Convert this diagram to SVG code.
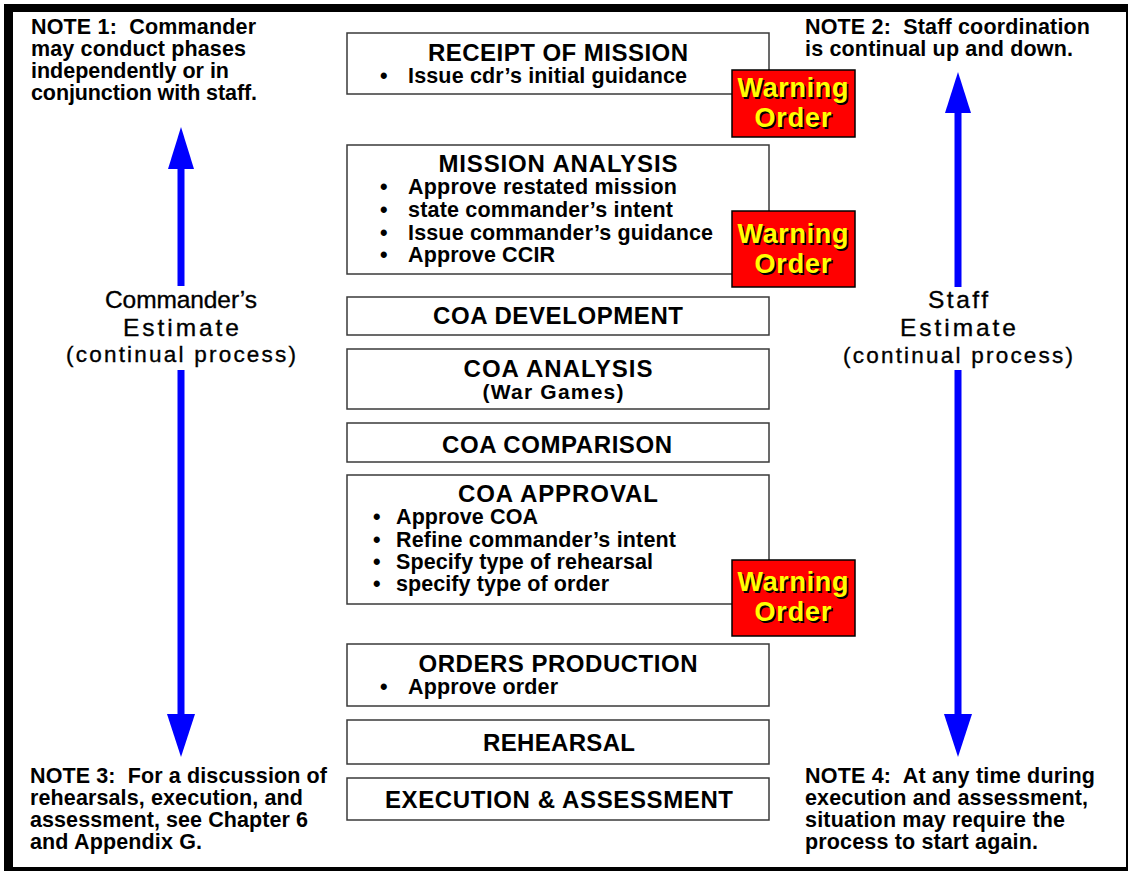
<svg xmlns="http://www.w3.org/2000/svg" width="1128" height="871" viewBox="0 0 1128 871">
  <style>
    text { font-family: "Liberation Sans", Arial, sans-serif; fill: #000; white-space: pre; }
    .note { font-size: 21.5px; font-weight: bold; }
    .title { font-size: 24px; font-weight: bold; text-anchor: middle; }
    .item { font-size: 21.5px; font-weight: bold; }
    .sub { font-size: 21px; font-weight: bold; text-anchor: middle; }
    .box { fill: #fff; stroke: #3a3a3a; stroke-width: 1.5; }
    .warn { fill: #ff0000; stroke: #000; stroke-width: 1.5; }
    .wtext { font-size: 27px; font-weight: bold; text-anchor: middle; fill: #ffff00; }
    .wshadow { font-size: 27px; font-weight: bold; text-anchor: middle; fill: #000; }
    .est { font-size: 24.5px; text-anchor: middle; stroke: #000; stroke-width: 0.35; }
    .estsub { font-size: 22.5px; text-anchor: middle; stroke: #000; stroke-width: 0.35; }
    .arrow { fill: #0000ff; }
  </style>

  <!-- frame -->
  <rect x="0" y="0" width="1128" height="871" fill="#fff"/>
  <rect x="4" y="4" width="1124" height="867" fill="#000"/>
  <rect x="13" y="12" width="1113" height="855" fill="#fff"/>

  <!-- notes -->
  <g id="note1">
    <text class="note" x="31" y="34" textLength="225" lengthAdjust="spacing">NOTE 1:  Commander</text>
    <text class="note" x="31" y="56" textLength="215" lengthAdjust="spacing">may conduct phases</text>
    <text class="note" x="31" y="78" textLength="198" lengthAdjust="spacing">independently or in</text>
    <text class="note" x="31" y="100" textLength="226" lengthAdjust="spacing">conjunction with staff.</text>
  </g>
  <g id="note2">
    <text class="note" x="805" y="34" textLength="285" lengthAdjust="spacing">NOTE 2:  Staff coordination</text>
    <text class="note" x="805" y="56" textLength="268" lengthAdjust="spacing">is continual up and down.</text>
  </g>
  <g id="note3">
    <text class="note" x="30" y="783" textLength="297" lengthAdjust="spacing">NOTE 3:  For a discussion of</text>
    <text class="note" x="30" y="805" textLength="273" lengthAdjust="spacing">rehearsals, execution, and</text>
    <text class="note" x="30" y="827" textLength="278" lengthAdjust="spacing">assessment, see Chapter 6</text>
    <text class="note" x="30" y="849" textLength="172" lengthAdjust="spacing">and Appendix G.</text>
  </g>
  <g id="note4">
    <text class="note" x="805" y="783" textLength="290" lengthAdjust="spacing">NOTE 4:  At any time during</text>
    <text class="note" x="805" y="805" textLength="283" lengthAdjust="spacing">execution and assessment,</text>
    <text class="note" x="805" y="827" textLength="260" lengthAdjust="spacing">situation may require the</text>
    <text class="note" x="805" y="849" textLength="233" lengthAdjust="spacing">process to start again.</text>
  </g>

  <!-- estimate labels -->
  <g id="commander-estimate">
    <text class="est" x="181" y="308" textLength="152" lengthAdjust="spacing">Commander’s</text>
    <text class="est" x="181" y="336" textLength="116" lengthAdjust="spacing">Estimate</text>
    <text class="estsub" x="181" y="362" textLength="230" lengthAdjust="spacing">(continual process)</text>
  </g>
  <g id="staff-estimate">
    <text class="est" x="958" y="308" textLength="60" lengthAdjust="spacing">Staff</text>
    <text class="est" x="958" y="336" textLength="116" lengthAdjust="spacing">Estimate</text>
    <text class="estsub" x="958" y="363" textLength="230" lengthAdjust="spacing">(continual process)</text>
  </g>

  <!-- connectors: double-headed estimate arrows -->
  <g id="connectors">
    <polygon class="arrow" points="181,127 194,169 168,169"/>
    <rect class="arrow" x="177.5" y="168" width="7" height="118"/>
    <rect class="arrow" x="177.5" y="370" width="7" height="345"/>
    <polygon class="arrow" points="167,714 195,714 181,757"/>

    <polygon class="arrow" points="958,72 971,113 945,113"/>
    <rect class="arrow" x="954.5" y="112" width="7" height="175"/>
    <rect class="arrow" x="954.5" y="370" width="7" height="345"/>
    <polygon class="arrow" points="944,714 972,714 958,757"/>
  </g>

  <!-- process steps -->
  <g id="receipt-of-mission">
    <rect class="box" x="347" y="33" width="422" height="61"/>
    <text class="title" x="558" y="61" textLength="260" lengthAdjust="spacing">RECEIPT OF MISSION</text>
    <text class="item" x="380" y="83">•</text>
    <text class="item" x="408" y="83" textLength="279" lengthAdjust="spacing">Issue cdr’s initial guidance</text>
  </g>
  <g id="warning-order-1">
    <rect class="warn" x="732" y="70" width="123" height="67"/>
    <text class="wshadow" x="794.5" y="98.5" textLength="111" lengthAdjust="spacing">Warning</text>
    <text class="wtext" x="793" y="97" textLength="111" lengthAdjust="spacing">Warning</text>
    <text class="wshadow" x="794.5" y="128.5" textLength="77" lengthAdjust="spacing">Order</text>
    <text class="wtext" x="793" y="127" textLength="77" lengthAdjust="spacing">Order</text>
  </g>

  <g id="mission-analysis">
    <rect class="box" x="347" y="145" width="422" height="129"/>
    <text class="title" x="558" y="172" textLength="239" lengthAdjust="spacing">MISSION ANALYSIS</text>
    <text class="item" x="380" y="194">•</text>
    <text class="item" x="408" y="194" textLength="269" lengthAdjust="spacing">Approve restated mission</text>
    <text class="item" x="380" y="217">•</text>
    <text class="item" x="408" y="217" textLength="265" lengthAdjust="spacing">state commander’s intent</text>
    <text class="item" x="380" y="240">•</text>
    <text class="item" x="408" y="240" textLength="305" lengthAdjust="spacing">Issue commander’s guidance</text>
    <text class="item" x="380" y="262">•</text>
    <text class="item" x="408" y="262" textLength="147" lengthAdjust="spacing">Approve CCIR</text>
  </g>
  <g id="warning-order-2">
    <rect class="warn" x="732" y="211" width="123" height="76"/>
    <text class="wshadow" x="794.5" y="244.5" textLength="111" lengthAdjust="spacing">Warning</text>
    <text class="wtext" x="793" y="243" textLength="111" lengthAdjust="spacing">Warning</text>
    <text class="wshadow" x="794.5" y="274.5" textLength="77" lengthAdjust="spacing">Order</text>
    <text class="wtext" x="793" y="273" textLength="77" lengthAdjust="spacing">Order</text>
  </g>

  <g id="coa-development">
    <rect class="box" x="347" y="297" width="422" height="38"/>
    <text class="title" x="558" y="324" textLength="250" lengthAdjust="spacing">COA DEVELOPMENT</text>
  </g>

  <g id="coa-analysis">
    <rect class="box" x="347" y="349" width="422" height="60"/>
    <text class="title" x="558" y="377" textLength="189" lengthAdjust="spacing">COA ANALYSIS</text>
    <text class="sub" x="553" y="399" textLength="141" lengthAdjust="spacing">(War Games)</text>
  </g>

  <g id="coa-comparison">
    <rect class="box" x="347" y="423" width="422" height="39"/>
    <text class="title" x="557" y="453" textLength="230" lengthAdjust="spacing">COA COMPARISON</text>
  </g>

  <g id="coa-approval">
    <rect class="box" x="347" y="475" width="422" height="129"/>
    <text class="title" x="558" y="502" textLength="200" lengthAdjust="spacing">COA APPROVAL</text>
    <text class="item" x="373" y="524">•</text>
    <text class="item" x="396" y="524" textLength="142" lengthAdjust="spacing">Approve COA</text>
    <text class="item" x="373" y="547">•</text>
    <text class="item" x="396" y="547" textLength="280" lengthAdjust="spacing">Refine commander’s intent</text>
    <text class="item" x="373" y="569">•</text>
    <text class="item" x="396" y="569" textLength="257" lengthAdjust="spacing">Specify type of rehearsal</text>
    <text class="item" x="373" y="591">•</text>
    <text class="item" x="396" y="591" textLength="213" lengthAdjust="spacing">specify type of order</text>
  </g>
  <g id="warning-order-3">
    <rect class="warn" x="732" y="560" width="123" height="76"/>
    <text class="wshadow" x="794.5" y="592.5" textLength="111" lengthAdjust="spacing">Warning</text>
    <text class="wtext" x="793" y="591" textLength="111" lengthAdjust="spacing">Warning</text>
    <text class="wshadow" x="794.5" y="622.5" textLength="77" lengthAdjust="spacing">Order</text>
    <text class="wtext" x="793" y="621" textLength="77" lengthAdjust="spacing">Order</text>
  </g>

  <g id="orders-production">
    <rect class="box" x="347" y="644" width="422" height="62"/>
    <text class="title" x="558" y="672" textLength="279" lengthAdjust="spacing">ORDERS PRODUCTION</text>
    <text class="item" x="380" y="694">•</text>
    <text class="item" x="408" y="694" textLength="150" lengthAdjust="spacing">Approve order</text>
  </g>

  <g id="rehearsal">
    <rect class="box" x="347" y="720" width="422" height="44"/>
    <text class="title" x="559" y="751" textLength="152" lengthAdjust="spacing">REHEARSAL</text>
  </g>

  <g id="execution-assessment">
    <rect class="box" x="347" y="778" width="422" height="42"/>
    <text class="title" x="559" y="808" textLength="348" lengthAdjust="spacing">EXECUTION &amp; ASSESSMENT</text>
  </g>
</svg>
